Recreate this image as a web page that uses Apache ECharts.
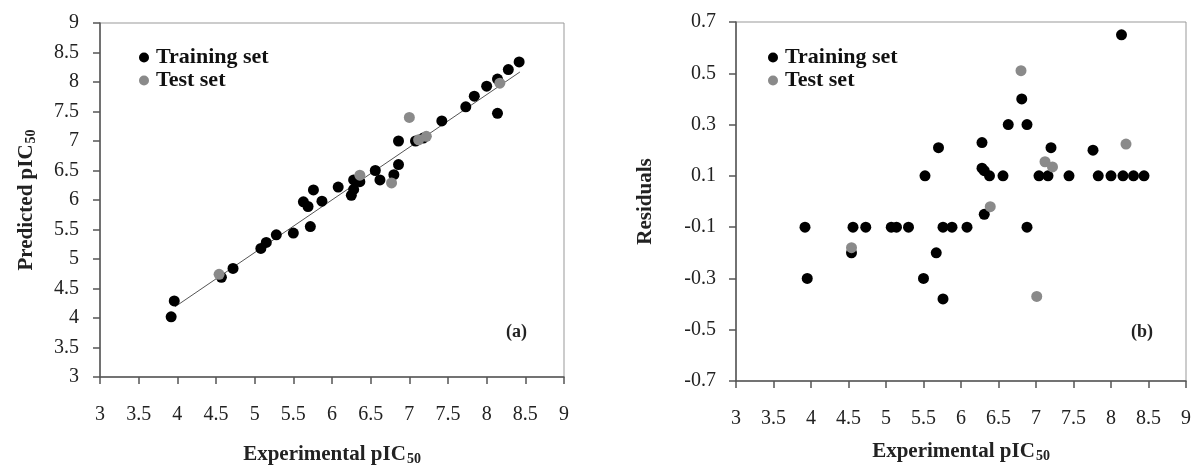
<!DOCTYPE html>
<html>
<head>
<meta charset="utf-8">
<script src="https://cdn.jsdelivr.net/npm/echarts@6/dist/echarts.min.js"></script>
<style>html,body{margin:0;padding:0;background:#fff}#c{width:1193px;height:465px}</style>
</head>
<body>
<div id="c"></div>
<script>
// ---- data: panel (a) predicted vs experimental ----
const trainExpA  = [3.92,3.96,4.57,4.72,5.08,5.15,5.28,5.50,5.72,5.63,5.69,5.76,5.87,6.08,6.25,6.28,6.28,6.36,6.56,6.62,6.80,6.86,6.86,7.08,7.18,7.42,7.73,7.84,8.00,8.14,8.14,8.28,8.42];
const trainPredA = [4.02,4.29,4.69,4.84,5.18,5.28,5.41,5.44,5.55,5.97,5.89,6.17,5.98,6.22,6.08,6.18,6.34,6.31,6.50,6.34,6.43,6.60,7.00,7.00,7.05,7.34,7.58,7.76,7.93,8.05,7.47,8.21,8.34];
const testExpA   = [4.54,6.36,6.77,7.00,7.12,7.22,8.17];
const testPredA  = [4.74,6.42,6.29,7.40,7.02,7.08,7.98];
const fitExpA    = [3.97,8.43];
const fitPredA   = [4.19,8.17];
// ---- data: panel (b) residuals ----
const trainExpB  = [3.92,4.56,4.73,5.07,5.14,5.30,5.76,5.88,6.08,6.88,3.95,4.54,5.50,5.67,5.76,5.52,5.70,6.28,6.28,6.31,6.38,6.31,6.56,6.63,6.81,6.88,7.04,7.16,7.20,7.44,7.76,7.83,8.00,8.16,8.30,8.44,8.14];
const trainResB  = [-0.10,-0.10,-0.10,-0.10,-0.10,-0.10,-0.10,-0.10,-0.10,-0.10,-0.30,-0.20,-0.30,-0.20,-0.38,0.10,0.21,0.23,0.13,0.12,0.10,-0.05,0.10,0.30,0.40,0.30,0.10,0.10,0.21,0.10,0.20,0.10,0.10,0.10,0.10,0.10,0.65];
const testExpB   = [4.54,6.39,6.80,7.01,7.12,7.22,8.20];
const testResB   = [-0.18,-0.02,0.51,-0.37,0.155,0.135,0.224];
// ---- tick labels ----
const xTicks  = [3,3.5,4,4.5,5,5.5,6,6.5,7,7.5,8,8.5,9];
const yTicksA = [3,3.5,4,4.5,5,5.5,6,6.5,7,7.5,8,8.5,9];
const yTicksB = [-0.7,-0.5,-0.3,-0.1,0.1,0.3,0.5,0.7];

const zip = (a,b) => a.map((v,i)=>[v,b[i]]);
const FONT = '"Liberation Serif", "DejaVu Serif", serif';
const BLACK = '#000000', GRAY = '#8a8a8a';

const axisLine = {show:true, onZero:false, lineStyle:{color:'#555', width:1.5}};
const tickStyle = {show:true, inside:false, length:7, lineStyle:{color:'#555', width:1.5}};
const lbl = {color:'#222', fontFamily:FONT, fontSize:20};
const nameStyle = {
  fontFamily:FONT, fontWeight:'bold', fontSize:21, color:'#222',
  rich:{a:{fontFamily:FONT,fontWeight:'bold',fontSize:21,color:'#222'},
        s:{fontFamily:FONT,fontWeight:'bold',fontSize:14,color:'#222',verticalAlign:'bottom',padding:[9,0,0,1]}}
};

function xAx(idx, gap){
  return {type:'value', gridIndex:idx, min:xTicks[0], max:xTicks[xTicks.length-1],
    axisLine, axisTick:{...tickStyle, customValues:xTicks},
    axisLabel:{...lbl, margin:28, customValues:xTicks, formatter:v=>String(v)},
    splitLine:{show:false},
    name:'{a|Experimental pIC}{s|50}', nameLocation:'middle', nameGap:gap, nameTextStyle:nameStyle};
}

const legendText = {fontFamily:FONT, fontWeight:'bold', fontSize:22, color:'#111', lineHeight:23, padding:[0,0,0,2]};

const chart = echarts.init(document.getElementById('c'), null, {renderer:'canvas'});
chart.setOption({
  animation:false,
  backgroundColor:'#fff',
  grid:[
    {left:100, top:23, width:464, height:354, outerBoundsMode:'none', containLabel:false, show:true, borderColor:'#999', borderWidth:1, backgroundColor:'transparent'},
    {left:736, top:22, width:450, height:359, outerBoundsMode:'none', containLabel:false, show:true, borderColor:'#999', borderWidth:1, backgroundColor:'transparent'}
  ],
  xAxis:[ xAx(0, 66), xAx(1, 59) ],
  yAxis:[
    {type:'value', gridIndex:0, min:yTicksA[0], max:yTicksA[yTicksA.length-1],
     axisLine, axisTick:{...tickStyle, customValues:yTicksA},
     axisLabel:{...lbl, margin:21, customValues:yTicksA, formatter:v=>String(v)},
     splitLine:{show:false},
     name:'{a|Predicted pIC}{s|50}', nameLocation:'middle', nameGap:62, nameRotate:90, nameTextStyle:nameStyle},
    {type:'value', gridIndex:1, min:yTicksB[0], max:yTicksB[yTicksB.length-1],
     axisLine, axisTick:{...tickStyle, customValues:yTicksB},
     axisLabel:{...lbl, margin:20, customValues:yTicksB, formatter:v=>v.toFixed(1)},
     splitLine:{show:false},
     name:'Residuals', nameLocation:'middle', nameGap:80, nameRotate:90, nameTextStyle:nameStyle}
  ],
  legend:[
    {orient:'vertical', left:134, top:41, itemWidth:10, itemHeight:10, itemGap:0, icon:'circle',
     data:['Training set','Test set'], textStyle:legendText, selectedMode:false},
    {orient:'vertical', left:763, top:41, itemWidth:10, itemHeight:10, itemGap:0, icon:'circle',
     data:['Training set','Test set'], textStyle:legendText, selectedMode:false}
  ],
  graphic:[
    {type:'text', left:506, top:323, style:{text:'(a)', fontFamily:FONT, fontWeight:'bold', fontSize:18, fill:'#222'}},
    {type:'text', left:1131, top:323, style:{text:'(b)', fontFamily:FONT, fontWeight:'bold', fontSize:18, fill:'#222'}}
  ],
  series:[
    {type:'line', xAxisIndex:0, yAxisIndex:0, data:zip(fitExpA, fitPredA), symbol:'none',
     lineStyle:{color:'#555', width:1}, z:1, silent:true},
    {name:'Training set', type:'scatter', xAxisIndex:0, yAxisIndex:0, data:zip(trainExpA, trainPredA),
     symbolSize:11, itemStyle:{color:BLACK, opacity:1}, z:3},
    {name:'Test set', type:'scatter', xAxisIndex:0, yAxisIndex:0, data:zip(testExpA, testPredA),
     symbolSize:11, itemStyle:{color:GRAY, opacity:1}, z:4},
    {name:'Training set', type:'scatter', xAxisIndex:1, yAxisIndex:1, data:zip(trainExpB, trainResB),
     symbolSize:11, itemStyle:{color:BLACK, opacity:1}, z:3},
    {name:'Test set', type:'scatter', xAxisIndex:1, yAxisIndex:1, data:zip(testExpB, testResB),
     symbolSize:11, itemStyle:{color:GRAY, opacity:1}, z:4}
  ]
});
</script>
</body>
</html>
